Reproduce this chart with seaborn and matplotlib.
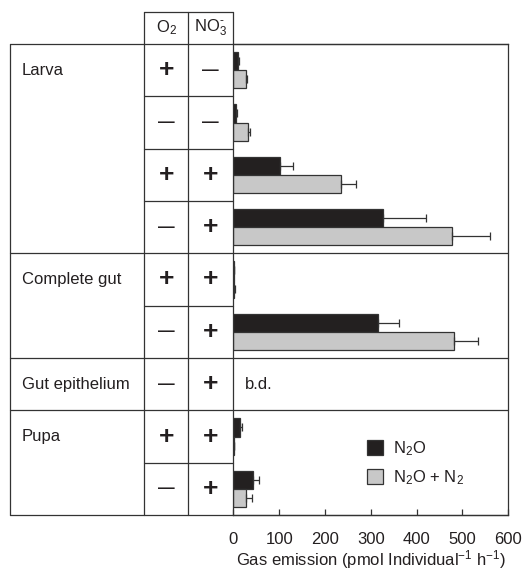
#!/usr/bin/env python3

# Gas emission of larvae, guts and pupae under different O2 / NO3- conditions

import matplotlib
matplotlib.use("Agg")
import matplotlib.pyplot as plt
import matplotlib.transforms as mtransforms
import seaborn as sns
import pandas as pd

sns.set_style("white")
plt.rcParams["font.family"] = ["Liberation Sans", "DejaVu Sans"]
plt.rcParams["font.size"] = 12
plt.rcParams["mathtext.fontset"] = "custom"
plt.rcParams["mathtext.rm"] = "Liberation Sans"
plt.rcParams["mathtext.it"] = "Liberation Sans:italic"
plt.rcParams["mathtext.default"] = "regular"

INK = "#231f20"
LINE = "#333333"

# one table row per measurement
groups = ["Larva", "Complete gut", "Gut epithelium", "Pupa"]
group_sizes = [4, 2, 1, 2]
o2 = ["+", "-", "+", "-", "+", "-", "-", "+", "-"]
no3 = ["-", "-", "+", "+", "+", "+", "+", "+", "+"]
n2o = [11, 6, 102, 327, 1, 315, None, 15, 44]
n2o_err = [2, 3, 29, 93, 1, 47, None, 4, 12]
n2o_n2 = [27, 31, 236, 477, 2, 482, None, 1, 28]
n2o_n2_err = [3, 6, 31, 83, 1, 51, None, 1, 12]
xticks = [0, 100, 200, 300, 400, 500, 600]

rows = [str(i) for i in range(len(o2))]

recs = []
for i, r in enumerate(rows):
    if n2o[i] is None:
        continue  # below detection
    recs.append({"row": r, "gas": "N$_2$O", "value": n2o[i], "err": n2o_err[i]})
    recs.append({"row": r, "gas": "N$_2$O + N$_2$", "value": n2o_n2[i], "err": n2o_n2_err[i]})
df = pd.DataFrame(recs)


def main():
    fig = plt.figure(figsize=(5.22, 5.72), dpi=100)
    ax = fig.add_axes([233.3 / 522, (572 - 515) / 572, 275 / 522, 471 / 572])

    sns.barplot(data=df, x="value", y="row", hue="gas", order=rows, orient="h",
                palette=[INK, "#c8c8c8"], edgecolor=LINE, linewidth=0.9,
                width=0.7, errorbar=None, ax=ax)

    # error bars, positioned from the drawn bars
    for cont, level in zip(ax.containers, df["gas"].unique()):
        sub = df[df["gas"] == level].set_index("row")
        for p in cont.patches:
            yc = p.get_y() + p.get_height() / 2
            r = rows[int(round(yc))]
            ax.errorbar(sub.loc[r, "value"], yc, xerr=[[0], [sub.loc[r, "err"]]],
                        fmt="none", ecolor=LINE, elinewidth=0.9, capsize=3.2,
                        capthick=0.9)

    ax.set_xlim(0, 600)
    ax.set_ylim(len(rows) - 0.5, -0.5)
    ax.set_xticks(xticks)
    ax.set_yticks([])
    ax.set_ylabel("")
    ax.tick_params(axis="x", direction="in", length=4, width=0.9, color=LINE,
                   pad=12, labelsize=12, labelcolor=INK, bottom=True)
    ax.set_xlabel("Gas emission (pmol Individual$^{-1}$ h$^{-1}$)", color=INK,
                  labelpad=1)
    for s in ax.spines.values():
        s.set_color(LINE)
        s.set_linewidth(0.9)

    ax.text(25, 6, "b.d.", va="center", ha="left", color=INK)

    # table on the left, x in axes fraction, y in data rows
    tr = mtransforms.blended_transform_factory(ax.transAxes, ax.transData)
    x_left, x_o2, x_no3 = -0.812, -0.324, -0.164
    head_top = -0.5 - 32 / 52.3
    kw = dict(color=LINE, lw=0.9, transform=tr, clip_on=False)
    bottom = len(rows) - 0.5

    ax.plot([x_left, x_left], [-0.5, bottom], **kw)
    ax.plot([x_o2, x_o2], [head_top, bottom], **kw)
    ax.plot([x_no3, x_no3], [head_top, bottom], **kw)
    ax.plot([0, 0], [head_top, -0.5], **kw)
    ax.plot([x_o2, 0], [head_top, head_top], **kw)

    start = 0
    for g, n in zip(groups, group_sizes):
        ax.plot([x_left, 1], [start - 0.5, start - 0.5], **kw)
        for k in range(1, n):
            ax.plot([x_o2, 0], [start + k - 0.5, start + k - 0.5], **kw)
        ax.text(x_left + 0.044, start, g, transform=tr, va="center",
                ha="left", color=INK)
        start += n
    ax.plot([x_left, 1], [bottom, bottom], **kw)

    head_y = (head_top - 0.5) / 2
    ax.text((x_o2 + x_no3) / 2, head_y, "O$_2$", transform=tr, ha="center",
            va="center", color=INK)
    ax.text(x_no3 / 2, head_y, "NO$_3^{\\text{-}}$", transform=tr, ha="center",
            va="center", color=INK)

    def sym(s):
        if s == "+":
            return "+", dict(fontsize=19, fontweight="bold")
        return "\u2014", dict(fontsize=12, fontweight="bold")

    for i in range(len(rows)):
        for xc, s in [((x_o2 + x_no3) / 2, o2[i]), (x_no3 / 2, no3[i])]:
            t, st = sym(s)
            ax.text(xc, i, t, transform=tr, ha="center", va="center",
                    color=INK, **st)

    ax.legend(loc="lower left", bbox_to_anchor=(0.43, 0.027), frameon=False,
              handlelength=1.0, handleheight=1.0, handletextpad=0.6,
              labelspacing=0.65, fontsize=12, labelcolor=INK)

    fig.savefig("out.png", dpi=100)


if __name__ == "__main__":
    main()
